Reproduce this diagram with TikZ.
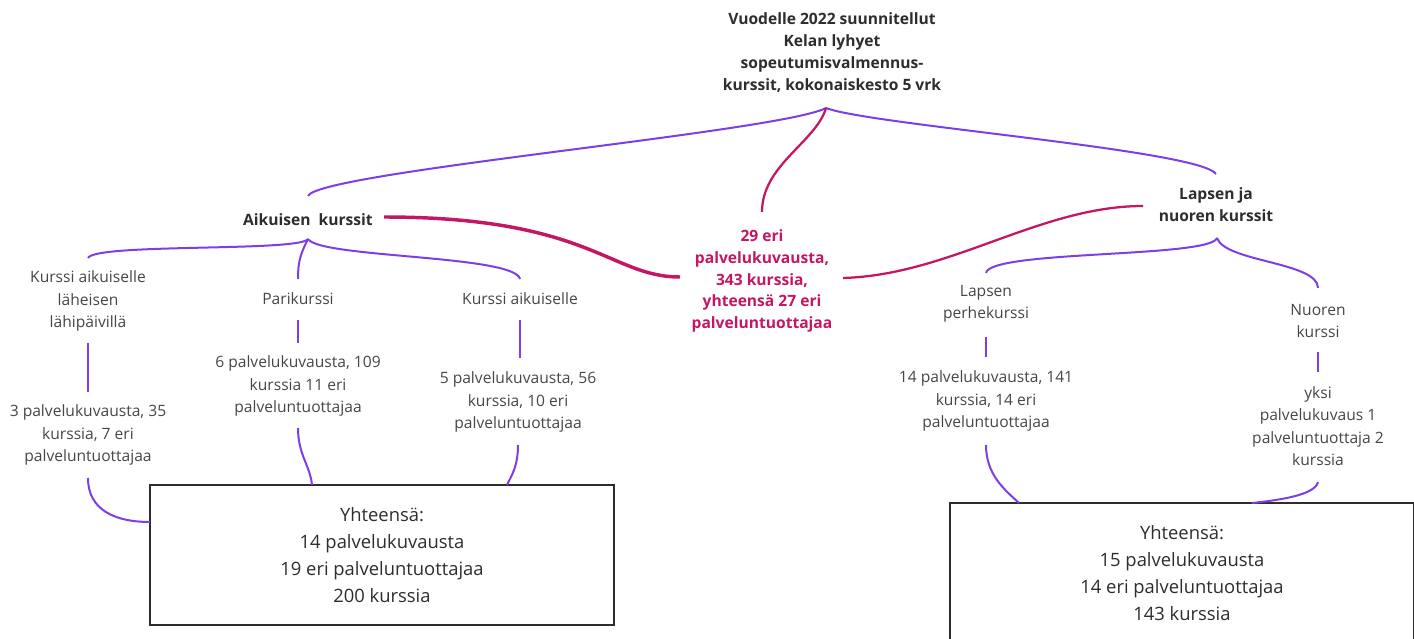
\documentclass[tikz,border=0pt]{standalone}
\usepackage{fontspec}
\setmainfont{Open Sans}
\definecolor{purp}{RGB}{124,62,232}
\definecolor{mag}{RGB}{196,22,98}
\definecolor{txtgray}{RGB}{70,70,70}
\definecolor{hdgray}{RGB}{45,45,45}
\definecolor{boxgray}{RGB}{45,45,45}
\begin{document}
\begin{tikzpicture}[x=0.75pt,y=-0.75pt,
  lbl/.style={align=center, text=txtgray, font=\fontsize{11.7}{16.9}\selectfont, inner sep=0pt},
  hd/.style={align=center, text=hdgray, font=\fontsize{11.7}{16.5}\selectfont\bfseries, inner sep=0pt},
  rd/.style={align=center, text=mag, font=\fontsize{11.7}{16.2}\selectfont\bfseries, inner sep=0pt},
  totalbox/.style={draw=boxgray, line width=1.5pt, align=center, text=hdgray,
     font=\fontsize{13.8}{20.3}\selectfont, minimum width=348pt, minimum height=105pt, inner sep=0pt},
  pl/.style={draw=purp, line width=1.5pt},
  mg/.style={draw=mag, line width=1.7pt},
  mgthick/.style={draw=mag, line width=2.6pt}]
\useasboundingbox (0,0) rectangle (1414,639);
\clip (0,0) rectangle (1414,639);

% nodes
\node[hd] (title) at (832,53) {Vuodelle 2022 suunnitellut\\Kelan lyhyet\\sopeutumisvalmennus-\\kurssit, kokonaiskesto 5 vrk};
\node[hd] (aik) at (308,220) {Aikuisen\ \ kurssit};
\node[hd] (lap) at (1216,205) {Lapsen ja\\nuoren kurssit};
\node[rd] (red) at (762,281) {29 eri\\palvelukuvausta,\\343 kurssia,\\yhteensä 27 eri\\palveluntuottajaa};

\node[lbl] (a1) at (88,301) {Kurssi aikuiselle\\läheisen\\lähipäivillä};
\node[lbl] (a2) at (298,299) {Parikurssi};
\node[lbl] (a3) at (520,299) {Kurssi aikuiselle};
\node[lbl] (a1s) at (88,435) {3 palvelukuvausta, 35\\kurssia, 7 eri\\palveluntuottajaa};
\node[lbl] (a2s) at (298,386) {6 palvelukuvausta, 109\\kurssia 11 eri\\palveluntuottajaa};
\node[lbl] (a3s) at (518,402) {5 palvelukuvausta, 56\\kurssia, 10 eri\\palveluntuottajaa};

\node[lbl] (l1) at (986,304) {Lapsen\\perhekurssi};
\node[lbl] (l2) at (1318,321) {Nuoren\\kurssi};
\node[lbl] (l1s) at (986,401) {14 palvelukuvausta, 141\\kurssia, 14 eri\\palveluntuottajaa};
\node[lbl] (l2s) at (1318,426) {yksi\\palvelukuvaus 1\\palveluntuottaja 2\\kurssia};

\node[totalbox] (box1) at (382,555) {Yhteensä:\\14 palvelukuvausta\\19 eri palveluntuottajaa\\200 kurssia};
\node[totalbox] (box2) at (1182,573) {Yhteensä:\\15 palvelukuvausta\\14 eri palveluntuottajaa\\143 kurssia};

% connection points
\coordinate (r0) at (826,108);
\coordinate (aikT) at (308,196);
\coordinate (lapT) at (1216,174);
\coordinate (redT) at (762,212);
\coordinate (aikR) at (384,217);
\coordinate (redL) at (680,277);
\coordinate (redR) at (843,278);
\coordinate (lapL) at (1143,206);
\coordinate (aikB) at (308,239);
\coordinate (a1T) at (88,258);
\coordinate (a2T) at (298,279);
\coordinate (a3T) at (520,279);
\coordinate (a1B) at (88,343);
\coordinate (a1sT) at (88,392);
\coordinate (a2B) at (298,320);
\coordinate (a2sT) at (298,343);
\coordinate (a3B) at (520,320);
\coordinate (a3sT) at (520,358);
\coordinate (a1sB) at (88,478);
\coordinate (a2sB) at (298,428);
\coordinate (a3sB) at (518,445);
\coordinate (b1L) at (150,522);
\coordinate (b1a) at (312,485);
\coordinate (b1b) at (507,485);
\coordinate (lapB) at (1217,238);
\coordinate (l1T) at (986,273);
\coordinate (l2T) at (1318,288);
\coordinate (l1B) at (986,337);
\coordinate (l1sT) at (986,357);
\coordinate (l2B) at (1318,352);
\coordinate (l2sT) at (1318,372);
\coordinate (l1sB) at (986,445);
\coordinate (l2sB) at (1318,482);
\coordinate (b2a) at (1019,503);
\coordinate (b2b) at (1252,503);

% top level connectors
\draw[pl] (r0) .. controls (780,132) and (318,172) .. (aikT);
\draw[pl] (r0) .. controls (870,125) and (1200,150) .. (lapT);
\draw[mg] (r0) .. controls (816,142) and (762,165) .. (redT);
\draw[mgthick] (aikR) .. controls (590,217) and (610,277) .. (redL);
\draw[mg] (redR) .. controls (950,275) and (1040,206) .. (lapL);

% adult branch
\draw[pl] (aikB) .. controls (300,252) and (95,243) .. (a1T);
\draw[pl] (aikB) .. controls (300,255) and (298,262) .. (a2T);
\draw[pl] (aikB) .. controls (320,258) and (515,255) .. (a3T);
\draw[pl] (a1B) -- (a1sT);
\draw[pl] (a2B) -- (a2sT);
\draw[pl] (a3B) -- (a3sT);
\draw[pl] (a1sB) .. controls (88,510) and (115,522) .. (b1L);
\draw[pl] (a2sB) .. controls (298,455) and (310,465) .. (b1a);
\draw[pl] (a3sB) .. controls (518,468) and (510,478) .. (b1b);

% child branch
\draw[pl] (lapB) .. controls (1210,258) and (990,250) .. (l1T);
\draw[pl] (lapB) .. controls (1225,262) and (1318,262) .. (l2T);
\draw[pl] (l1B) -- (l1sT);
\draw[pl] (l2B) -- (l2sT);
\draw[pl] (l1sB) .. controls (986,475) and (1005,490) .. (b2a);
\draw[pl] (l2sB) .. controls (1315,495) and (1280,500) .. (b2b);
\end{tikzpicture}
\end{document}
